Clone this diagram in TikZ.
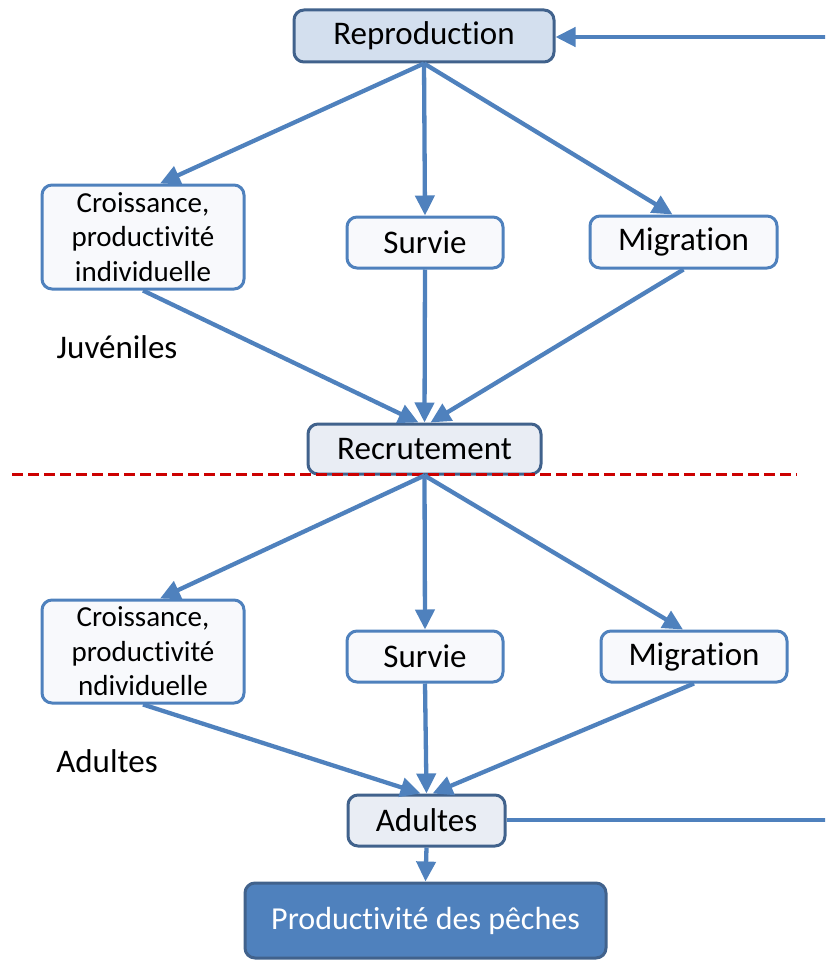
\documentclass[tikz,border=0pt]{standalone}
\usepackage{fontspec}
\setmainfont{Carlito}[Ligatures=NoCommon,RawFeature={-liga;-clig;-calt;-dlig}]
\usetikzlibrary{arrows.meta,calc}
\definecolor{lineblue}{RGB}{79,129,189}
\definecolor{darkedge}{RGB}{65,98,140}
\definecolor{repfill}{RGB}{211,223,238}
\definecolor{midfill}{RGB}{233,237,244}
\definecolor{lightfill}{RGB}{248,249,252}
\definecolor{dashred}{RGB}{204,0,0}
\begin{document}
\begin{tikzpicture}[x=1pt,y=-1pt,
  box/.style={rounded corners=10pt,line width=3pt,inner sep=0pt,align=center,font=\fontsize{29}{34.5}\selectfont},
  lightbox/.style={box,draw=lineblue,fill=lightfill},
  keybox/.style={box,draw=darkedge,fill=midfill,font=\fontsize{33}{38}\selectfont},
  smallbox/.style={lightbox,font=\fontsize{33}{38}\selectfont},
  conn/.style={draw=lineblue,line width=4.3pt,-{Triangle[length=20pt,width=19pt]}},
  plain/.style={draw=lineblue,line width=4pt},
  lbl/.style={inner sep=0pt,font=\fontsize{33}{38}\selectfont}]
\clip (0,0) rectangle (825,960);
% nodes
\node[keybox,fill=repfill,minimum width=260pt,minimum height=52pt] (rep) at (424,36) {Reproduction};
\node[lightbox,minimum width=202pt,minimum height=104pt] (c1) at (143,237) {Croissance,\\productivité\\individuelle};
\node[smallbox,minimum width=156pt,minimum height=51pt] (s1) at (425,242.5) {Survie};
\node[smallbox,minimum width=187pt,minimum height=52pt] (m1) at (683.5,242) {Migration};
\node[lbl] (juv) at (117,347) {Juvéniles};
\node[keybox,minimum width=233pt,minimum height=50pt] (rec) at (424.5,449) {Recrutement};
\node[lightbox,minimum width=202pt,minimum height=103pt] (c2) at (143,651.5) {Croissance,\\productivité\\ndividuelle};
\node[smallbox,minimum width=156pt,minimum height=51pt] (s2) at (425,656.5) {Survie};
\node[smallbox,minimum width=186pt,minimum height=51pt] (m2) at (694,656.5) {Migration};
\node[lbl] (adl) at (107,761) {Adultes};
\node[keybox,minimum width=157pt,minimum height=51pt] (ad) at (426.5,820.5) {Adultes};
\node[box,draw=darkedge,fill=lineblue,text=white,font=\fontsize{32}{36}\selectfont,minimum width=361pt,minimum height=75pt] (prod) at (425.5,920.5) {Productivité des pêches};
% dashed separator
\coordinate (dl) at (12,474);
\coordinate (dr) at (797,474);
\draw[dashred,line width=3pt,dash pattern=on 11pt off 5pt] (dl) -- (dr);
% right side feedback lines
\coordinate (rt) at (826,37);
\coordinate (rb) at (826,820);
\draw[conn] (rt) -- (rep.east |- rt);
\draw[plain] (ad.east |- rb) -- (rb);
% top level
\draw[conn] (rep.south) -- ($(c1.north)+(17,0)$);
\draw[conn] (rep.south) -- (s1.north);
\draw[conn] (rep.south) -- ($(m1.north)+(-11,0)$);
\draw[conn] (c1.south) -- ($(rec.north)+(-6,0)$);
\draw[conn] (s1.south) -- (rec.north);
\draw[conn] (m1.south) -- ($(rec.north)+(6,0)$);
% bottom level
\draw[conn] (rec.south) -- ($(c2.north)+(17,0)$);
\draw[conn] (rec.south) -- (s2.north);
\draw[conn] (rec.south) -- ($(m2.north)+(-11,0)$);
\draw[conn] (c2.south) -- ($(ad.north)+(-6,0)$);
\draw[conn] (s2.south) -- (ad.north);
\draw[conn] (m2.south) -- ($(ad.north)+(6,0)$);
\draw[conn] (ad.south) -- (prod.north);
\end{tikzpicture}
\end{document}
